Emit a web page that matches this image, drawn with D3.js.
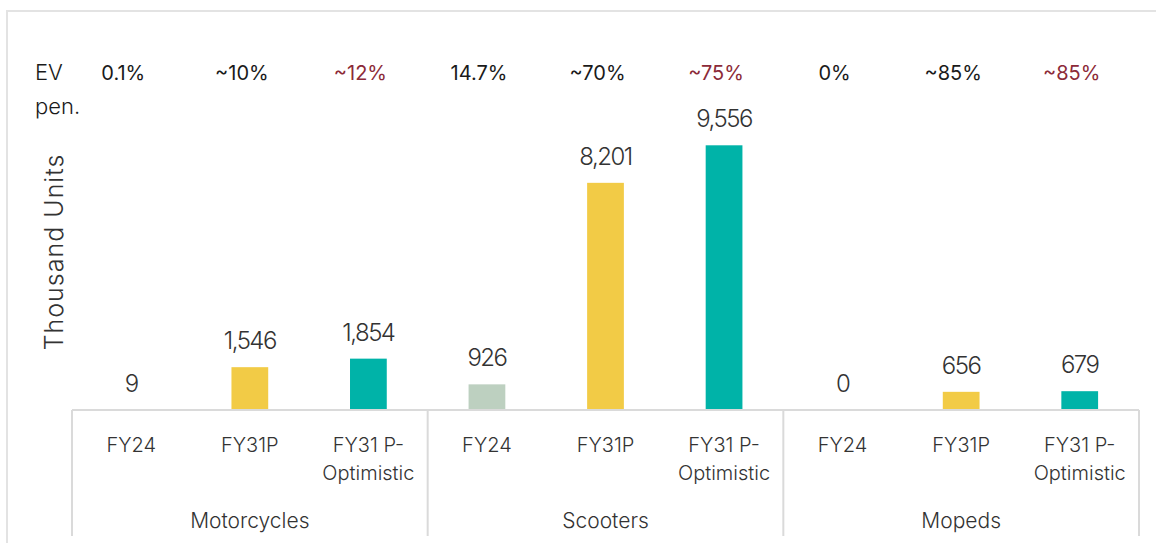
<!DOCTYPE html>
<html>
<head>
<meta charset="utf-8">
<script src="https://cdn.jsdelivr.net/npm/d3@7"></script>
<style>
  html, body { margin: 0; padding: 0; background: #fff; }
  svg text { font-family: Inter, "Open Sans", sans-serif; }
</style>
</head>
<body>
<div id="chart"></div>
<script>
// DATA
const categories = ['Motorcycles', 'Scooters', 'Mopeds'];
const periods = ['FY24', 'FY31P', 'FY31 P-Optimistic'];
const periodLines = [['FY24'], ['FY31P'], ['FY31 P-', 'Optimistic']];
const valuesFY24 = [9, 926, 0];
const valuesFY31P = [1546, 8201, 656];
const valuesFY31Opt = [1854, 9556, 679];
const evPenFY24 = ['0.1%', '14.7%', '0%'];
const evPenFY31P = ['~10%', '~70%', '~85%'];
const evPenFY31Opt = ['~12%', '~75%', '~85%'];

const seriesValues = [valuesFY24, valuesFY31P, valuesFY31Opt];
const seriesPen = [evPenFY24, evPenFY31P, evPenFY31Opt];
const colors = ['#bdd0c0', '#f2cb46', '#00b3a8'];
const penColors = ['#1a1a1a', '#1a1a1a', '#8c2a38'];

// flat rows for the joins
const rows = [];
categories.forEach((c, ci) => {
    periods.forEach((p, pi) => {
        rows.push({ cat: c, period: p, pi: pi, value: seriesValues[pi][ci], pen: seriesPen[pi][ci] });
    });
});

const W = 1156, H = 543;
const MARGIN = { left: 72, right: 17, top: 133, base: 410 };

const svg = d3.select('#chart').append('svg').attr('width', W).attr('height', H);

// OUTER FRAME
svg.append('path')
    .attr('d', `M7,${H} V11 H${W}`)
    .attr('fill', 'none')
    .attr('stroke', '#e3e3e3')
    .attr('stroke-width', 2);

// SCALES
const x0 = d3.scaleBand()
    .domain(categories)
    .range([MARGIN.left, W - MARGIN.right])
    .padding(0);

const x1 = d3.scaleBand()
    .domain(periods)
    .range([0, x0.bandwidth()])
    .padding(0);

const y = d3.scaleLinear()
    .domain([0, 10000])
    .range([MARGIN.base, MARGIN.top]);

const barW = x1.bandwidth() * 0.31;
const cx = d => x0(d.cat) + x1(d.period) + x1.bandwidth() / 2;

// BARS
svg.selectAll('.bar')
    .data(rows)
    .enter()
    .append('rect')
    .attr('class', 'bar')
    .attr('x', d => cx(d) - barW / 2)
    .attr('width', barW)
    .attr('y', d => y(d.value))
    .attr('height', d => y(0) - y(d.value))
    .attr('fill', d => colors[d.pi]);

// VALUE LABELS
svg.selectAll('.val')
    .data(rows)
    .enter()
    .append('text')
    .attr('class', 'val')
    .attr('x', cx)
    .attr('y', d => y(d.value) - 18)
    .attr('text-anchor', 'middle')
    .attr('font-size', 24)
    .attr('font-weight', 300)
    .attr('letter-spacing', -1.5)
    .attr('fill', '#333')
    .text(d => d3.format(',')(d.value));

// AXIS LINES (baseline + group separators)
const axisG = svg.append('g').attr('stroke', '#dadada').attr('stroke-width', 2);
axisG.append('line')
    .attr('x1', x0.range()[0]).attr('x2', x0.range()[1])
    .attr('y1', y(0)).attr('y2', y(0));
const seps = categories.map(c => x0(c)).concat([x0.range()[1]]);
axisG.selectAll('.sep')
    .data(seps)
    .enter()
    .append('line')
    .attr('x1', d => d).attr('x2', d => d)
    .attr('y1', y(0)).attr('y2', 536);

// PERIOD LABELS
const periodText = svg.selectAll('.period')
    .data(rows)
    .enter()
    .append('text')
    .attr('class', 'period')
    .attr('text-anchor', 'middle')
    .attr('font-size', 20)
    .attr('font-weight', 300)
    .attr('fill', '#333');
periodText.selectAll('tspan')
    .data(d => periodLines[d.pi].map(t => ({ t: t, x: cx(d) })))
    .enter()
    .append('tspan')
    .attr('x', d => d.x)
    .attr('y', (d, i) => 452 + i * 28)
    .text(d => d.t);

// CATEGORY LABELS
svg.selectAll('.cat')
    .data(categories)
    .enter()
    .append('text')
    .attr('class', 'cat')
    .attr('x', d => x0(d) + x0.bandwidth() / 2)
    .attr('y', 528)
    .attr('text-anchor', 'middle')
    .attr('font-size', 21)
    .attr('font-weight', 300)
    .attr('fill', '#333')
    .text(d => d);

// EV PENETRATION ROW
svg.selectAll('.pen')
    .data(rows)
    .enter()
    .append('text')
    .attr('class', 'pen')
    .attr('x', d => cx(d) - 8)
    .attr('y', 80)
    .attr('text-anchor', 'middle')
    .attr('font-size', 20)
    .attr('fill', d => penColors[d.pi])
    .text(d => d.pen);

const evLab = svg.append('text')
    .attr('font-size', 22)
    .attr('font-weight', 300)
    .attr('fill', '#1a1a1a');
evLab.append('tspan').attr('x', 35).attr('y', 80).text('EV');
evLab.append('tspan').attr('x', 35).attr('y', 114).text('pen.');

// Y TITLE
svg.append('text')
    .attr('transform', `translate(63, 252) rotate(-90)`)
    .attr('text-anchor', 'middle')
    .attr('font-size', 25)
    .attr('font-weight', 300)
    .attr('letter-spacing', 1)
    .attr('fill', '#333')
    .text('Thousand Units');
</script>
</body>
</html>
